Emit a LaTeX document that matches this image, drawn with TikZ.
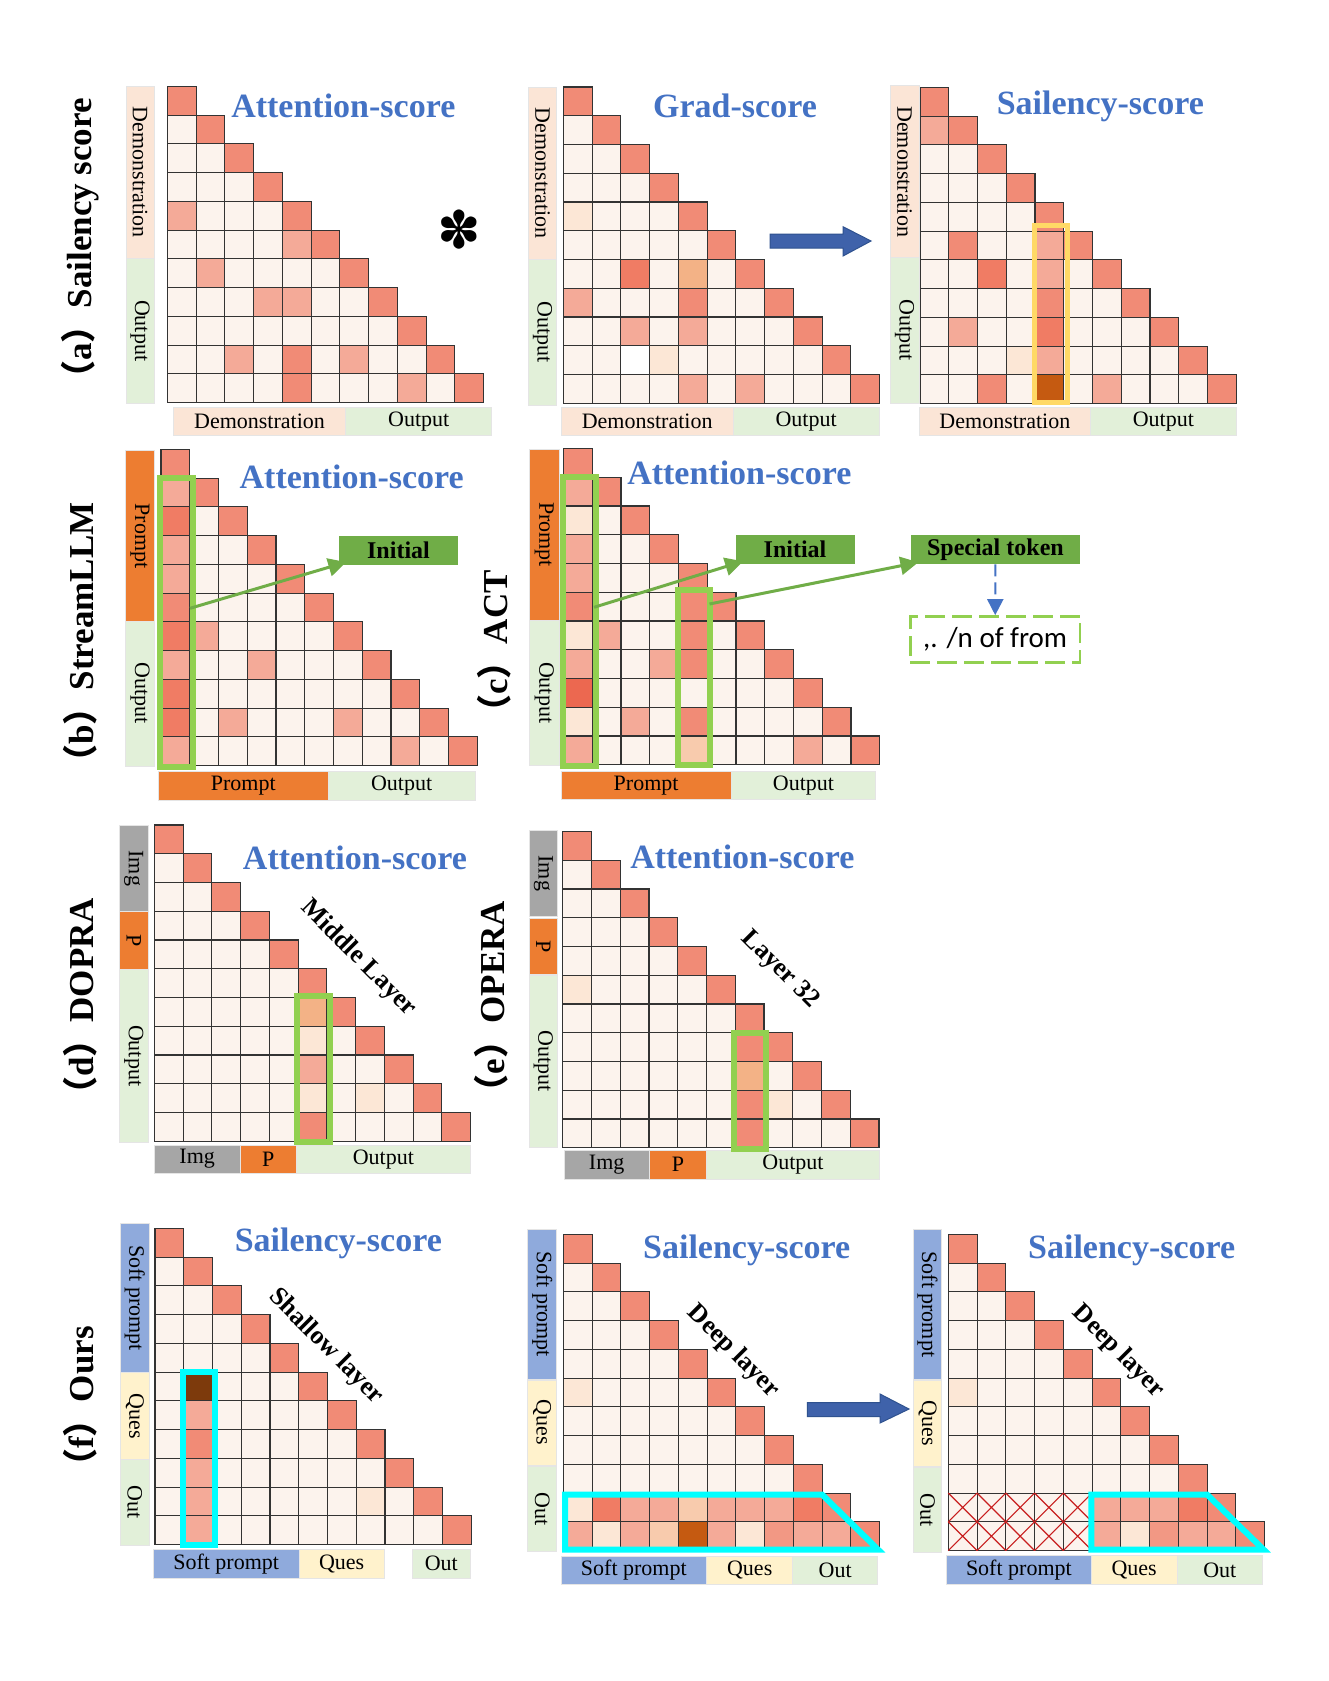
\documentclass[tikz,border=0pt]{standalone}
\usepackage{fontspec}
\setmainfont{Liberation Serif}
\newfontfamily\cjkf{Noto Sans CJK SC}
\newfontfamily\carl{Carlito}
\newfontfamily\djv{DejaVu Sans}
\usetikzlibrary{arrows.meta,calc}
\definecolor{clight}{RGB}{252,243,237}
\definecolor{cdiag}{RGB}{241,139,118}
\definecolor{cpink}{RGB}{244,170,152}
\definecolor{cpinkb}{RGB}{242,152,132}
\definecolor{cred}{RGB}{240,124,100}
\definecolor{cbright}{RGB}{236,104,80}
\definecolor{cpeach}{RGB}{243,178,134}
\definecolor{cpale}{RGB}{252,231,214}
\definecolor{clpeach}{RGB}{248,203,173}
\definecolor{cdorange}{RGB}{197,90,17}
\definecolor{cbrown}{RGB}{125,58,12}
\definecolor{bdemo}{RGB}{251,229,214}
\definecolor{bout}{RGB}{226,240,217}
\definecolor{borange}{RGB}{237,125,49}
\definecolor{bgray}{RGB}{166,166,166}
\definecolor{bblue}{RGB}{143,170,220}
\definecolor{bques}{RGB}{255,242,204}
\definecolor{ctitle}{RGB}{68,114,196}
\definecolor{ctag}{RGB}{112,173,71}
\definecolor{cgbox}{RGB}{146,208,80}
\definecolor{cyel}{RGB}{255,217,102}
\definecolor{ccyan}{RGB}{0,255,255}
\definecolor{cblue}{RGB}{63,98,170}
\definecolor{cbluedk}{RGB}{47,82,143}
\definecolor{xred}{RGB}{200,30,30}
\def\cellsz{28.75}
\tikzset{
  cellst/.style={draw=black!80, line width=0.55pt},
  barst/.style={draw=black!10, line width=0.5pt},
  barlab/.style={font=\fontsize{11}{13}\selectfont, inner sep=0pt},
  ttl/.style={font=\bfseries\fontsize{17}{20}\selectfont, text=ctitle, inner sep=0pt},
  side/.style={font=\bfseries\fontsize{17.5}{20}\selectfont, rotate=90, inner sep=0pt},
  diaglab/.style={font=\bfseries\fontsize{13}{15}\selectfont, rotate=-45, inner sep=0pt},
  hlgreen/.style={draw=cgbox, line width=3pt},
  hlcyan/.style={draw=ccyan, line width=3pt},
  hlyellow/.style={draw=cyel, line width=2.5pt},
  tagbox/.style={fill=ctag, font=\bfseries\fontsize{12}{14}\selectfont, minimum height=14.35pt, inner sep=0pt},
  garrow/.style={draw=ctag, line width=1.5pt, -{Triangle[length=9pt,width=9pt]}},
  blockarrow/.style={fill=cblue, draw=cbluedk, line width=0.5pt},
  xline/.style={draw=xred, line width=0.6pt}
}
\newcommand{\trigrid}[3]{%
  \foreach \ii in {0,...,10}{%
    \foreach \jj in {0,...,\ii}{%
      \ifnum\jj=\ii\relax \def\cfill{cdiag}\else\def\cfill{clight}\fi
      \filldraw[cellst,fill=\cfill] ({#1+\jj*\cellsz},{#2+\ii*\cellsz}) rectangle ++(\cellsz,\cellsz);
    }%
  }%
  \foreach \ii/\jj/\cfill in {#3}{%
    \filldraw[cellst,fill=\cfill] ({#1+\jj*\cellsz},{#2+\ii*\cellsz}) rectangle ++(\cellsz,\cellsz);
  }%
}
\newcommand{\vseg}[7]{%
  \filldraw[barst,fill=#6] (#2,#3) rectangle (#4,#5);
  \node[barlab,rotate=-90] (#1) at ({(#2+#4)/2},{(#3+#5)/2}) {#7};
}
\newcommand{\hseg}[7]{%
  \filldraw[barst,fill=#6] (#2,#3) rectangle (#4,#5);
  \node[barlab] (#1) at ({(#2+#4)/2},{(#3+#5)/2}) {#7};
}
\begin{document}
\begin{tikzpicture}[x=0.5pt,y=-0.5pt]
\fill[white] (0,0) rectangle (1328,1681);
\useasboundingbox (0,0) rectangle (1328,1681);

% ---------- side labels ----------
\node[side] (la) at (80,247) {{\cjkf （}a{\cjkf ）}Sailency score};
\node[side] (lb) at (80,641) {{\cjkf （}b{\cjkf ）}StreamLLM};
\node[side] (lc) at (494,650) {{\cjkf （}c{\cjkf ）}ACT};
\node[side] (ld) at (80,1005) {{\cjkf （}d{\cjkf ）}DOPRA};
\node[side] (le) at (491,1005) {{\cjkf （}e{\cjkf ）}OPERA};
\node[side] (lf) at (80,1405) {{\cjkf （}f{\cjkf ）}Ours};

% ---------- (a) panel 1 ----------
\trigrid{167.3}{86.3}{4/0/cpink,5/4/cpink,6/1/cpink,7/3/cpink,7/4/cpink,9/2/cpink,9/4/cdiag,9/6/cpink,10/4/cdiag,10/8/cpink}
\vseg{a1l1}{126}{86}{154.3}{258.3}{bdemo}{Demonstration}
\vseg{a1l2}{126}{258.3}{154.3}{403}{bout}{Output}
\hseg{a1b1}{173.3}{407.3}{345.7}{435.7}{bdemo}{Demonstration}
\hseg{a1b2}{345.7}{407.3}{491.7}{435.7}{bout}{Output}
\node[ttl] (a1t) at (343.3,106) {Attention-score};
\node[inner sep=0pt, font=\djv\fontsize{26}{28}\selectfont] (ast) at (459,230) {✽};

% ---------- (a) panel 2 ----------
\trigrid{563.3}{87}{4/0/cpale,6/2/cred,6/4/cpeach,7/0/cpink,7/4/cdiag,8/2/cpink,8/4/cpink,9/2/white,9/3/cpale,10/4/cpink,10/6/cpink}
\vseg{a2l1}{528.3}{87.3}{556.7}{259.3}{bdemo}{Demonstration}
\vseg{a2l2}{528.3}{259.3}{556.7}{405}{bout}{Output}
\hseg{a2b1}{561}{407.3}{733.3}{435.7}{bdemo}{Demonstration}
\hseg{a2b2}{733.3}{407.3}{879}{435.7}{bout}{Output}
\node[ttl] (a2t) at (735,106) {Grad-score};
\filldraw[blockarrow] (770,234) -- (843,234) -- (843,226.7) -- (871,241) -- (843,256) -- (843,248) -- (770,248) -- cycle;

% ---------- (a) panel 3 ----------
\trigrid{920}{87.3}{1/0/cpink,5/1/cdiag,6/2/cred,8/1/cpink,9/3/cpale,10/2/cdiag,10/6/cpink,5/4/cpink,6/4/cpink,7/4/cdiag,8/4/cred,9/4/cpink,10/4/cdorange}
\vseg{a3l1}{890}{85.7}{919}{257.7}{bdemo}{Demonstration}
\vseg{a3l2}{890}{257.7}{919}{403.3}{bout}{Output}
\hseg{a3b1}{919}{407.7}{1090.7}{435.7}{bdemo}{Demonstration}
\hseg{a3b2}{1090.7}{407.7}{1236}{435.7}{bout}{Output}
\node[ttl] (a3t) at (1100.3,106) {Sailency-score};
\draw[hlyellow] (1034,225.7) rectangle (1067,402.7);

% ---------- (b) StreamLLM ----------
\trigrid{161}{449.3}{1/0/cpink,2/0/cred,3/0/cpink,4/0/cpink,5/0/cdiag,6/0/cred,7/0/cpink,8/0/cred,9/0/cred,10/0/cpink,6/1/cpink,7/3/cpink,9/2/cpink,9/6/cpink,10/8/cpink}
\vseg{bl1}{125.7}{450.7}{154.3}{621}{borange}{Prompt}
\vseg{bl2}{125.7}{621}{154.3}{766}{bout}{Output}
\hseg{bb1}{158.3}{771.7}{328.3}{800}{borange}{Prompt}
\hseg{bb2}{328.3}{771.7}{475}{800}{bout}{Output}
\node[ttl] (bt) at (351.7,476.7) {Attention-score};
\draw[hlgreen] (160.3,478.3) rectangle (193,767);
\node[tagbox, minimum width=59.8pt] (init1) at (398.5,550.35) {Initial};
\coordinate (g1) at (190,608.3);
\draw[garrow] (g1) -- ([xshift=4pt,yshift=1.5pt]init1.south west);

% ---------- (c) ACT ----------
\trigrid{563.5}{448.5}{1/0/cpink,2/0/cpale,3/0/cpink,4/0/cpink,5/0/cdiag,6/0/cpale,7/0/cpink,8/0/cbright,9/0/cpale,10/0/cpink,6/1/cpink,7/3/cpink,9/2/cpink,10/8/cpink,5/4/cdiag,6/4/cdiag,7/4/cdiag,9/4/cdiag,10/4/clpeach}
\vseg{cl1}{529.5}{449.3}{559}{620}{borange}{Prompt}
\vseg{cl2}{529.5}{620}{559}{765.3}{bout}{Output}
\hseg{cb1}{561}{771}{731.2}{799.4}{borange}{Prompt}
\hseg{cb2}{731.2}{771}{875.8}{799.4}{bout}{Output}
\node[ttl] (ct) at (739.3,473) {Attention-score};
\draw[hlgreen] (562.8,477) rectangle (596,766.3);
\draw[hlgreen] (678.2,590.3) rectangle (709.7,765);
\node[tagbox, minimum width=59.5pt] (init2) at (795,549.5) {Initial};
\node[tagbox, minimum width=84.6pt] (spec) at (995.4,549.5) {Special token};
\node[draw=cgbox, line width=1.2pt, dash pattern=on 10pt off 3.5pt, minimum width=84.8pt, minimum height=23pt, inner sep=0pt, font=\carl\fontsize{14.5}{16}\selectfont] (dbox) at (995.2,639.35) {,. /n of from};
\coordinate (g2) at (594,607.3);
\coordinate (g3) at (709.5,604);
\draw[garrow] (g2) -- ([xshift=4pt,yshift=1.5pt]init2.south west);
\draw[garrow] (g3) -- ([xshift=4pt,yshift=1pt]spec.south west);
\draw[draw=ctitle, line width=1pt, dash pattern=on 6pt off 3pt, -{Triangle[length=8pt,width=8pt]}] (spec.south) -- (dbox.north);

% ---------- (d) DOPRA ----------
\trigrid{154.3}{825}{6/5/cpeach,7/5/cpale,8/5/cpink,9/5/cpale,10/5/cdiag,9/7/cpale}
\vseg{dl1}{119.3}{825}{148.3}{911.7}{bgray}{Img}
\vseg{dl2}{119.3}{911.7}{148.3}{969}{borange}{P}
\vseg{dl3}{119.3}{969}{148.3}{1142.3}{bout}{Output}
\hseg{db1}{154.3}{1145}{240}{1173.3}{bgray}{Img}
\hseg{db2}{240}{1145}{296.7}{1173.3}{borange}{P}
\hseg{db3}{296.7}{1145}{470}{1173.3}{bout}{Output}
\node[ttl] (dt) at (355,858.3) {Attention-score};
\node[diaglab] (dd) at (358.3,958.3) {Middle Layer};
\draw[hlgreen] (297.3,996.3) rectangle (329.7,1142);

% ---------- (e) OPERA ----------
\trigrid{562.7}{831.5}{5/0/cpale,7/6/cdiag,8/6/cpeach,9/6/cdiag,10/6/cdiag,9/7/cpale}
\vseg{el1}{529}{830}{557.7}{916.7}{bgray}{Img}
\vseg{el2}{529}{918.3}{557.7}{974.3}{borange}{P}
\vseg{el3}{529}{975}{557.7}{1147.7}{bout}{Output}
\hseg{eb1}{564}{1150}{649.3}{1179}{bgray}{Img}
\hseg{eb2}{649.3}{1150}{706.7}{1179}{borange}{P}
\hseg{eb3}{706.7}{1150}{879.3}{1179}{bout}{Output}
\node[ttl] (et) at (742.3,856.7) {Attention-score};
\node[diaglab] (ed) at (780,970) {Layer 32};
\draw[hlgreen] (734,1033) rectangle (766,1149.3);

% ---------- (f) panel 1 ----------
\trigrid{155}{1228.3}{5/1/cbrown,6/1/cpink,7/1/cdiag,8/1/cpink,9/1/cpink,10/1/cpink,9/7/cpale}
\vseg{f1l1}{120.7}{1223.3}{149}{1372.7}{bblue}{Soft prompt}
\vseg{f1l2}{120.7}{1372.7}{149}{1459.3}{bques}{Ques}
\vseg{f1l3}{120.7}{1459.3}{149}{1545}{bout}{Out}
\hseg{f1b1}{153.3}{1549.3}{299}{1578.3}{bblue}{Soft prompt}
\hseg{f1b2}{299}{1549.3}{384.3}{1578.3}{bques}{Ques}
\hseg{f1b3}{412.7}{1549.3}{470}{1578.3}{bout}{Out}
\node[ttl] (f1t) at (338.3,1243.3) {Sailency-score};
\node[diaglab] (f1d) at (326,1346.7) {Shallow layer};
\draw[hlcyan] (183,1372.3) rectangle (215.3,1545.3);

% ---------- (f) panel 2 ----------
\trigrid{563.3}{1234.3}{5/0/cpale,9/0/cpale,9/1/cred,9/2/cpink,9/3/cpink,9/4/clpeach,9/5/cpink,9/6/cpink,9/7/cpink,9/8/cred,10/0/cpink,10/1/cpale,10/2/cpink,10/3/clpeach,10/4/cdorange,10/5/cpink,10/6/cpale,10/7/cpinkb,10/8/cpink,10/9/cpink}
\vseg{f2l1}{527.7}{1229}{556.7}{1379.3}{bblue}{Soft prompt}
\vseg{f2l2}{527.7}{1380}{556.7}{1465}{bques}{Ques}
\vseg{f2l3}{527.7}{1466.7}{556.7}{1551.7}{bout}{Out}
\hseg{f2b1}{561}{1556.7}{706.7}{1584}{bblue}{Soft prompt}
\hseg{f2b2}{706.7}{1556.7}{792.7}{1584}{bques}{Ques}
\hseg{f2b3}{792.7}{1556.7}{877.7}{1584}{bout}{Out}
\node[ttl] (f2t) at (746.7,1250) {Sailency-score};
\node[diaglab] (f2d) at (733.3,1351.7) {Deep layer};
\draw[hlcyan] (565,1494.5) -- (822,1494.5) -- (878,1549.5) -- (565,1549.5) -- cycle;
\filldraw[blockarrow] (807.3,1402.7) -- (880,1402.7) -- (880,1394) -- (909,1409) -- (880,1423) -- (880,1416.7) -- (807.3,1416.7) -- cycle;

% ---------- (f) panel 3 ----------
\trigrid{948.3}{1234.3}{5/0/cpale,9/5/cpink,9/6/cpink,9/7/cpink,9/8/cred,10/5/cpink,10/6/cpale,10/7/cpinkb,10/8/cpink,10/9/cpink}
\foreach \ii in {9,10}{\foreach \jj in {0,...,4}{%
  \draw[xline] ({948.3+\jj*\cellsz},{1234.3+\ii*\cellsz}) -- ++(\cellsz,\cellsz)
               ({948.3+(\jj+1)*\cellsz},{1234.3+\ii*\cellsz}) -- ++(-\cellsz,\cellsz);
}}
\vseg{f3l1}{913.3}{1229.3}{941.7}{1379.3}{bblue}{Soft prompt}
\vseg{f3l2}{913.3}{1380.7}{941.7}{1466}{bques}{Ques}
\vseg{f3l3}{913.3}{1467.3}{941.7}{1552.3}{bout}{Out}
\hseg{f3b1}{946.7}{1555.7}{1091}{1584}{bblue}{Soft prompt}
\hseg{f3b2}{1091}{1555.7}{1177.3}{1584}{bques}{Ques}
\hseg{f3b3}{1177.3}{1555.7}{1262.3}{1584}{bout}{Out}
\node[ttl] (f3t) at (1131.7,1250) {Sailency-score};
\node[diaglab] (f3d) at (1118.3,1351.7) {Deep layer};
\draw[hlcyan] (1091.3,1494.5) -- (1207,1494.5) -- (1263.5,1549.5) -- (1091.3,1549.5) -- cycle;
\end{tikzpicture}
\end{document}
